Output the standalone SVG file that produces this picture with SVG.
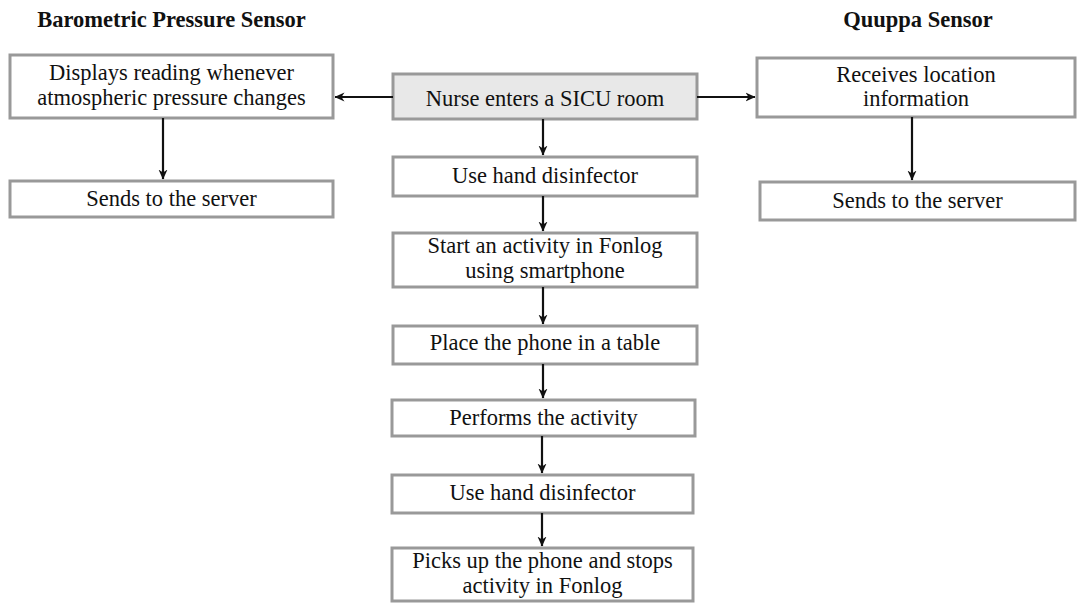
<svg xmlns="http://www.w3.org/2000/svg" width="1079" height="603" viewBox="0 0 1079 603">
<style>
.box{fill:#fff;stroke:#999;stroke-width:3}
.gray{fill:#e8e8e8}
.t{font-family:"Liberation Serif","Times New Roman",serif;font-size:22.5px;fill:#111;text-anchor:middle}
.h{font-family:"Liberation Serif","Times New Roman",serif;font-size:22.5px;font-weight:bold;fill:#111;text-anchor:middle}
.c{stroke:#111;stroke-width:2.2;fill:none;marker-end:url(#ah)}
</style>
<defs>
<marker id="ah" viewBox="0 0 10 10" refX="9.5" refY="5" markerWidth="10" markerHeight="10" orient="auto" markerUnits="userSpaceOnUse">
<path d="M0,0.5 L10,5 L0,9.5 L3,5 Z" fill="#111"/>
</marker>
</defs>
<text class="h" x="171.5" y="27">Barometric Pressure Sensor</text>
<text class="h" x="918" y="27">Quuppa Sensor</text>
<g id="n_displays"><rect class="box" x="10" y="55" width="323" height="63"/><text class="t" x="171.5" y="80">Displays reading whenever</text><text class="t" x="171.5" y="105">atmospheric pressure changes</text></g>
<g id="n_sendsL"><rect class="box" x="10" y="181" width="323" height="36"/><text class="t" x="171.5" y="206">Sends to the server</text></g>
<g id="n_nurse"><rect class="box gray" x="393" y="74" width="304" height="45"/><text class="t" x="545" y="106">Nurse enters a SICU room</text></g>
<g id="n_hand1"><rect class="box" x="393" y="157" width="304" height="39"/><text class="t" x="545" y="183">Use hand disinfector</text></g>
<g id="n_start"><rect class="box" x="393" y="233" width="304" height="54"/><text class="t" x="545" y="253">Start an activity in Fonlog</text><text class="t" x="545" y="278">using smartphone</text></g>
<g id="n_place"><rect class="box" x="393" y="326" width="304" height="38"/><text class="t" x="545" y="350">Place the phone in a table</text></g>
<g id="n_perform"><rect class="box" x="392" y="400" width="303" height="36"/><text class="t" x="543.5" y="425">Performs the activity</text></g>
<g id="n_hand2"><rect class="box" x="392" y="475" width="301" height="38"/><text class="t" x="542.5" y="500">Use hand disinfector</text></g>
<g id="n_picks"><rect class="box" x="392" y="548" width="301" height="53"/><text class="t" x="542.5" y="568">Picks up the phone and stops</text><text class="t" x="542.5" y="593">activity in Fonlog</text></g>
<g id="n_receives"><rect class="box" x="757" y="58" width="318" height="59"/><text class="t" x="916" y="82">Receives location</text><text class="t" x="916" y="106">information</text></g>
<g id="n_sendsR"><rect class="box" x="760" y="182" width="315" height="38"/><text class="t" x="917.5" y="208">Sends to the server</text></g>
<g id="connectors">
<line class="c" x1="393" y1="97" x2="335" y2="97"/>
<line class="c" x1="697" y1="97" x2="755" y2="97"/>
<line class="c" x1="163" y1="118" x2="163" y2="179"/>
<line class="c" x1="912" y1="117" x2="912" y2="180"/>
<line class="c" x1="543" y1="119" x2="543" y2="155"/>
<line class="c" x1="543" y1="196" x2="543" y2="231"/>
<line class="c" x1="543" y1="287" x2="543" y2="324"/>
<line class="c" x1="543" y1="364" x2="543" y2="398"/>
<line class="c" x1="542" y1="436" x2="542" y2="473"/>
<line class="c" x1="542" y1="513" x2="542" y2="546"/>
</g>
</svg>
